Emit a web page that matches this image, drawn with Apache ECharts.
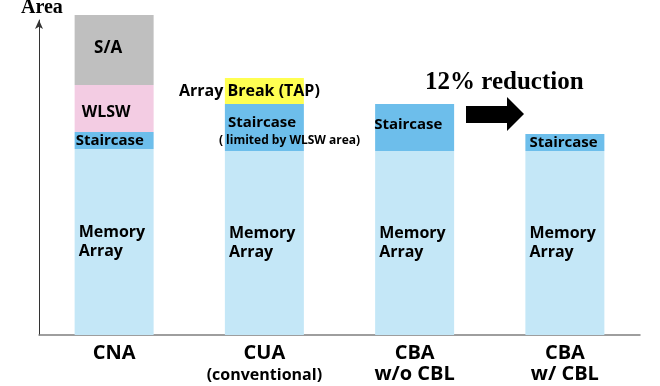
<!DOCTYPE html>
<html><head><meta charset="utf-8">
<script src="https://cdn.jsdelivr.net/npm/echarts@6/dist/echarts.min.js"></script>
<style>html,body{margin:0;padding:0;background:#fff}#c{width:660px;height:386px}</style>
</head><body><div id="c"></div>
<script>
// ---- data (arbitrary area units) ----
const categories = ['CNA', 'CUA\n(conventional)', 'CBA\nw/o CBL', 'CBA\nw/ CBL'];
const memoryArray = [186, 184, 184, 184];
const staircase = [17, 47, 47, 17];
const arrayBreak = ['-', 26, '-', '-'];
const wlsw = [47, '-', '-', '-'];
const senseAmp = [70, '-', '-', '-'];
const yAxisName = 'Area';
const reductionText = '12% reduction';
const segNames = { memory: 'Memory\nArray', stair: 'Staircase', stairNote: '( limited by WLSW area)', brk: 'Array Break (TAP)', wlsw: 'WLSW', sa: 'S/A' };

const FONT = '"Open Sans", "Noto Sans", sans-serif';
const SERIF = '"Liberation Serif", "DejaVu Serif", serif';
const txt = { color: '#000', fontFamily: FONT, fontWeight: 'bold' };

const stairLabels = [
  { position: 'insideLeft', distance: 1, offset: [0, 0] },
  { position: 'insideLeft', distance: -6, offset: [0, 4],
    formatter: '{a|' + segNames.stair + '}\n{b|' + segNames.stairNote + '}' },
  { position: 'insideLeft', distance: -1, offset: [0, -3] },
  { position: 'insideLeft', distance: 4, offset: [0, 0] }
];

const chart = echarts.init(document.getElementById('c'));
chart.setOption({
  animation: false,
  backgroundColor: '#fff',
  grid: [
    { left: 39, right: 20, top: 15, bottom: 51 },
    { left: 39, right: 20, top: 20, bottom: 51 }
  ],
  xAxis: [
    { type: 'category', gridIndex: 0, data: categories,
      axisLine: { lineStyle: { color: '#7f7f7f', width: 1.5 } },
      axisTick: { show: false },
      axisLabel: { margin: 8, interval: 0,
        formatter: function (v) {
          const p = v.split('\n');
          let s = '{m|' + p[0] + '}';
          if (p[1]) s += '\n{' + (p[1].charAt(0) === '(' ? 's' : 'm') + '|' + p[1] + '}';
          return s;
        },
        rich: {
          m: Object.assign({ fontSize: 20, lineHeight: 21 }, txt),
          s: Object.assign({ fontSize: 16, lineHeight: 22 }, txt)
        }
      } },
    { type: 'value', gridIndex: 1, show: false, min: 0, max: 1 }
  ],
  yAxis: [
    { type: 'value', gridIndex: 0, min: 0, max: 320, show: false },
    { type: 'value', gridIndex: 1, min: 0, max: 1,
      axisLine: { show: true, symbol: ['none', 'arrow'], symbolSize: [6, 9],
        lineStyle: { color: '#333', width: 1 } },
      axisLabel: { show: false }, axisTick: { show: false }, splitLine: { show: false } }
  ],
  series: [
    { name: 'Memory Array', type: 'bar', stack: 'a', barWidth: 79, data: memoryArray,
      itemStyle: { color: '#C4E7F7' },
      label: Object.assign({ show: true, position: 'insideLeft', distance: 4,
        formatter: segNames.memory, fontSize: 16, lineHeight: 19, align: 'left' }, txt) },
    { name: 'Staircase', type: 'bar', stack: 'a', barWidth: 79,
      data: staircase.map((v, i) => ({ value: v, label: stairLabels[i] })),
      itemStyle: { color: '#6DBEEB' },
      label: Object.assign({ show: true, formatter: segNames.stair, fontSize: 15, lineHeight: 18,
        rich: {
          a: Object.assign({ fontSize: 15, lineHeight: 18, padding: [0, 0, 0, 9] }, txt),
          b: Object.assign({ fontSize: 12, lineHeight: 18 }, txt)
        } }, txt) },
    { name: 'Array Break', type: 'bar', stack: 'a', barWidth: 79, data: arrayBreak,
      itemStyle: { color: '#FFFF52' },
      label: Object.assign({ show: true, position: 'inside', offset: [-15, 0],
        formatter: segNames.brk, fontSize: 16 }, txt) },
    { name: 'WLSW', type: 'bar', stack: 'a', barWidth: 79, data: wlsw,
      itemStyle: { color: '#F3CCE3' },
      label: Object.assign({ show: true, position: 'inside', offset: [-8, 3.5],
        formatter: segNames.wlsw, fontSize: 16 }, txt) },
    { name: 'S/A', type: 'bar', stack: 'a', barWidth: 79, data: senseAmp,
      itemStyle: { color: '#BFBFBF' },
      label: Object.assign({ show: true, position: 'inside', offset: [-6, -1.5],
        formatter: segNames.sa, fontSize: 17 }, txt) }
  ],
  graphic: [
    { type: 'text', left: 21, top: -2,
      style: { text: yAxisName, font: 'bold 20px ' + SERIF, fill: '#000' } },
    { type: 'text', x: 425, y: 82.5,
      style: { text: reductionText, font: 'bold 25px ' + SERIF, fill: '#000', verticalAlign: 'middle', align: 'left' } },
    { type: 'polygon',
      shape: { points: [[466, 106], [507, 106], [507, 97], [524, 114], [507, 131], [507, 123], [466, 123]] },
      style: { fill: '#000' } }
  ]
});
</script>
</body></html>
